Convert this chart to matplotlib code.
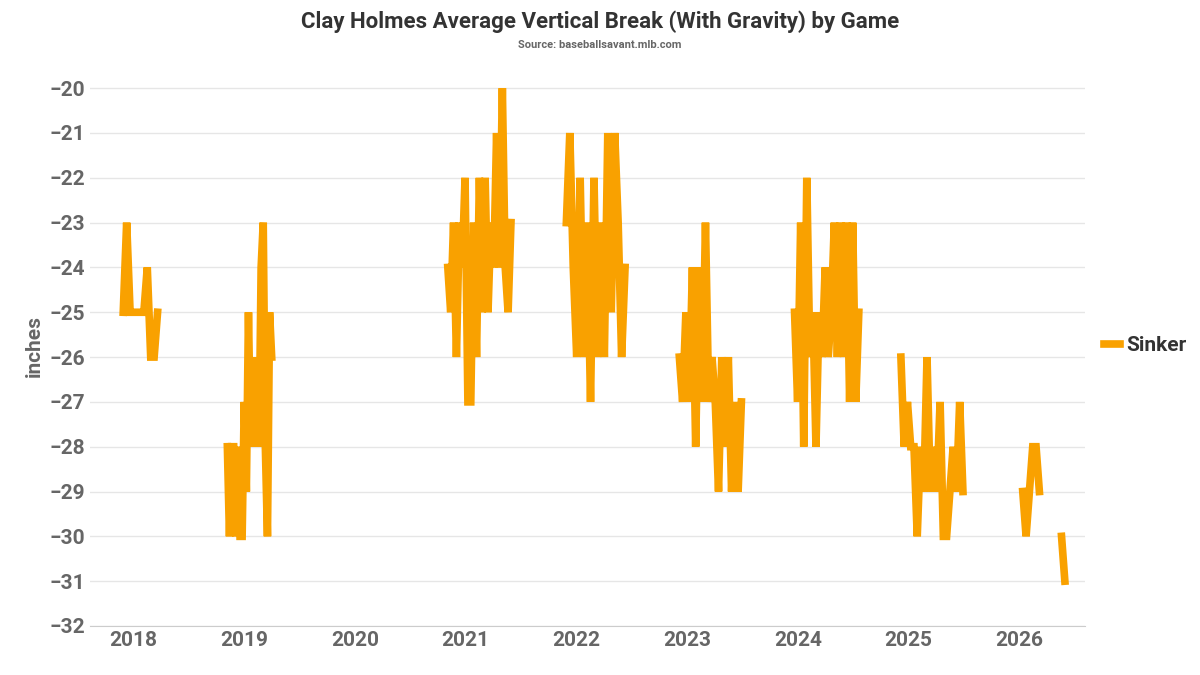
import numpy as np
import matplotlib.pyplot as plt

plt.rcParams['font.family'] = ['Roboto', 'DejaVu Sans']

# season blocks: (start year, end year, values in inches)
seasons = [
    (2017.91, 2018.22, [-25, -23, -25, -25, -25, -25, -25, -24, -26, -26, -25]),
    (2018.85, 2019.25, [-28, -30, -28, -28, -30, -28, -30, -30, -27, -29, -25, -28, -26,
                        -28, -26, -28, -24, -23, -28, -30, -25, -26]),
    (2020.84, 2021.41, [-24, -25, -23, -26, -23, -24, -22, -27, -27, -23, -26, -22, -25,
                        -22, -25, -23, -24, -21, -24, -20, -24, -25, -23]),
    (2021.91, 2022.44, [-23, -21, -24, -26, -22, -26, -23, -27, -22, -26, -23, -26, -21,
                        -25, -21, -23, -26, -24]),
    (2022.93, 2023.49, [-26, -27, -25, -27, -24, -28, -24, -27, -23, -27, -26, -27, -29,
                        -26, -28, -26, -29, -27, -29, -27]),
    (2023.97, 2024.55, [-25, -27, -23, -28, -22, -26, -25, -28, -25, -26, -24, -26, -25,
                        -23, -26, -23, -26, -23, -27, -23, -27, -25]),
    (2024.93, 2025.49, [-26, -28, -27, -28, -28, -30, -28, -29, -26, -29, -28, -29, -27,
                        -30, -30, -29, -28, -29, -27, -29]),
    (2026.03, 2026.18, [-29, -30, -29, -28, -28, -29]),
    (2026.38, 2026.41, [-30, -31]),
]

color = '#F9A100'
fig = plt.figure(figsize=(12, 6.75), dpi=100)
ax = fig.add_axes([0.075, 0.0726, 0.829, 0.83])

for i, (a, b, vals) in enumerate(seasons):
    x = np.linspace(a, b, len(vals))
    ax.plot(x, vals, color=color, lw=5.5, solid_joinstyle='miter',
            label='Sinker' if i == 0 else None)

ax.set_ylim(-32, -19.5)
ax.set_xlim(2017.61, 2026.59)
ax.set_yticks(range(-32, -19))
ax.set_xticks(range(2018, 2027))
ax.tick_params(labelsize=15, colors='#666666', length=0)
for lab in ax.get_xticklabels() + ax.get_yticklabels():
    lab.set_fontweight('bold')
ax.grid(axis='y', color='#e6e6e6', lw=1)
for s in ['top', 'right', 'left']:
    ax.spines[s].set_visible(False)
ax.spines['bottom'].set_color('#cccccc')
ax.set_ylabel('inches', fontsize=15, fontweight='bold', color='#666666')

fig.text(0.5, 0.968, 'Clay Holmes Average Vertical Break (With Gravity) by Game',
         ha='center', va='center', fontsize=16, fontweight='bold', color='#333333')
fig.text(0.5, 0.933, 'Source: baseballsavant.mlb.com', ha='center', va='center',
         fontsize=8, fontweight='bold', color='#666666')
leg = ax.legend(loc='center left', bbox_to_anchor=(1.0, 0.5), frameon=False,
                handlelength=0.8, handletextpad=0.3, prop={'size': 15, 'weight': 'bold'})
for t in leg.get_texts():
    t.set_color('#333333')

fig.savefig('out.png')
